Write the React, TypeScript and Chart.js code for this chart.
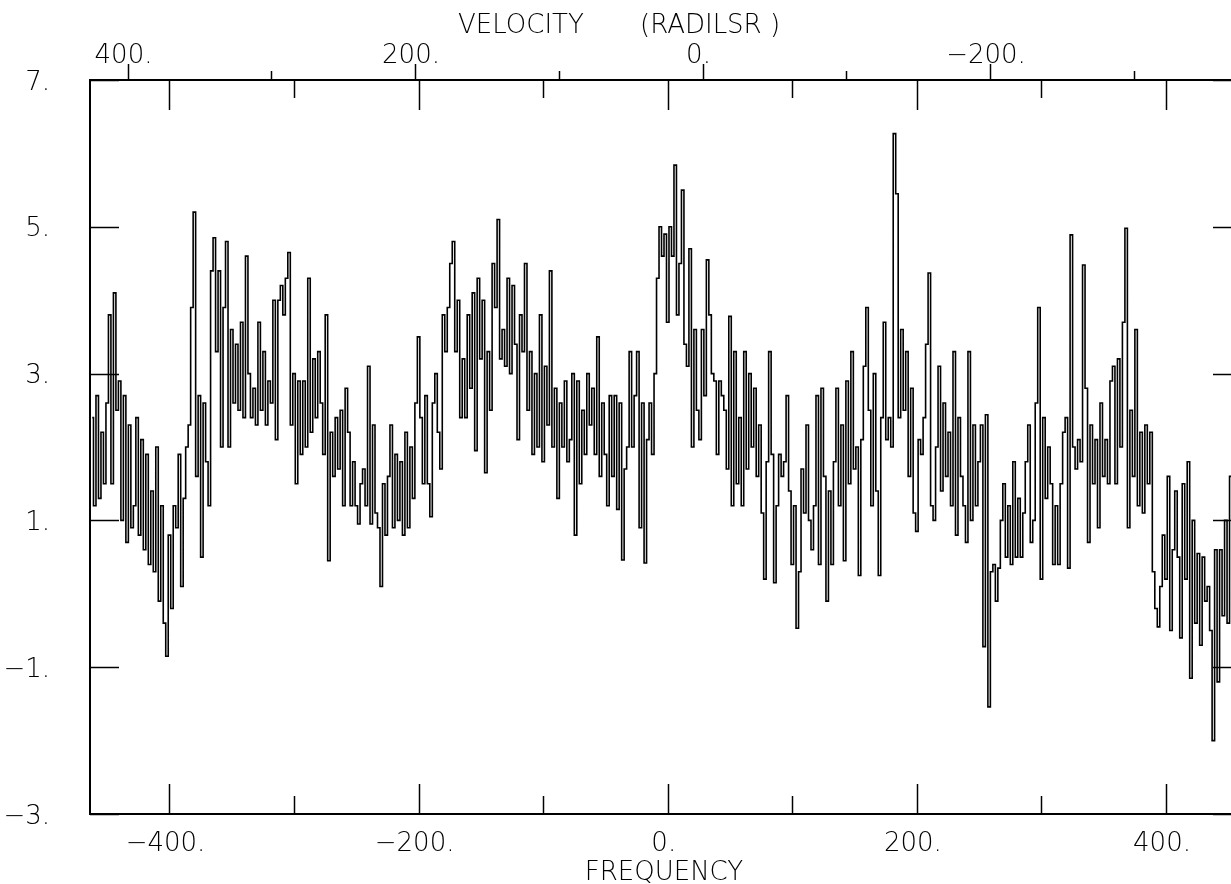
import { useEffect, useRef } from 'react';
import { Chart, registerables } from 'chart.js';

Chart.register(...registerables);

// ---- channel grid (frequency axis) ----
const FREQ_START = -462;
const FREQ_STEP = 2;

// ---- spectrum values, left to right ----
const spectrumA = [2.4, 1.2, 2.7, 1.3, 2.2, 1.5, 2.6, 3.8, 1.5, 4.1,
  2.5, 2.9, 1.0, 2.7, 0.7, 2.3, 0.9, 1.2, 2.4, 0.8,
  2.1, 0.6, 1.9, 0.4, 1.4, 0.3, 2.0, -0.1, 1.2, -0.4,
  -0.85, 0.8, -0.2, 1.2, 0.9, 1.9, 0.1, 1.3, 2.0, 2.3,
  3.9, 5.2, 1.6, 2.7, 0.5, 2.6, 1.8, 1.2, 4.4, 4.85,
  3.3, 4.4, 2.0, 3.9, 4.8, 2.0, 3.6, 2.6, 3.4];
const spectrumB = [2.5, 3.7, 2.4, 4.6, 3.0, 2.4, 2.8, 2.3, 3.7, 2.5,
  3.3, 2.3, 2.9, 2.6, 4.0, 2.1, 4.0, 4.2, 3.8, 4.3,
  4.65, 2.3, 3.0, 1.5, 2.9, 1.9, 2.9, 2.0, 4.3, 2.2,
  3.2, 2.4, 3.3, 2.6, 1.9, 3.8, 0.45, 2.2, 1.6, 2.4,
  1.7, 2.5, 1.2, 2.8, 2.2, 1.2, 1.8, 1.2, 0.95, 1.5,
  1.7, 1.2, 3.1, 0.95, 2.3, 1.1, 0.9];
const spectrumC = [0.1, 1.5, 0.8, 1.6, 2.3, 0.9, 1.9, 1.0, 1.8, 0.8,
  2.2, 0.9, 2.0, 1.3, 2.6, 3.5, 2.4, 1.5, 2.7, 1.5,
  1.05, 2.6, 3.0, 2.2, 1.7, 3.8, 3.3, 3.9, 4.5, 4.8,
  3.3, 4.0, 2.4, 3.2, 2.4, 3.8, 2.8, 4.1, 1.95, 4.3,
  3.2, 4.0, 1.65, 3.3, 2.5, 4.5, 3.9, 5.1, 3.2, 3.6,
  3.1, 4.3, 3.0, 4.2, 3.4, 2.1, 3.8, 3.3];
const spectrumD = [4.5, 2.5, 3.3, 1.9, 3.0, 2.0, 3.8, 1.8, 3.1, 2.3,
  4.4, 2.0, 2.8, 1.3, 2.6, 2.0, 2.9, 1.8, 2.1, 3.0,
  0.8, 2.9, 1.5, 2.5, 1.9, 3.0, 2.3, 2.8, 1.9, 3.5,
  1.6, 2.6, 1.9, 1.2, 2.7, 1.6, 2.7, 1.15, 2.6, 0.46,
  1.7, 2.0, 3.3, 2.0, 2.7, 3.3, 0.9, 2.6, 0.42, 2.1,
  2.6, 1.9, 3.0, 4.3, 5.0, 4.6];
const spectrumE = [4.9, 3.7, 5.0, 4.6, 5.84, 3.8, 4.5, 5.5, 3.4, 3.1,
  4.7, 2.0, 3.6, 2.5, 2.1, 3.6, 2.7, 4.55, 3.8, 3.0,
  2.9, 1.9, 2.9, 2.7, 2.5, 1.7, 3.78, 1.2, 3.3, 1.5,
  2.4, 1.2, 3.3, 1.7, 3.0, 2.0, 2.8, 1.6, 2.3, 1.1,
  0.2, 1.8, 3.3, 1.9, 0.15, 1.2, 1.9, 1.6, 1.8, 2.7,
  1.4, 0.4, 1.2, -0.47, 0.3, 1.7];
const spectrumF = [1.1, 2.3, 1.0, 0.6, 1.2, 2.7, 0.4, 2.8, 1.6, -0.1,
  1.4, 0.4, 1.8, 2.8, 1.2, 2.3, 0.45, 2.9, 1.5, 3.3,
  1.7, 2.0, 0.25, 2.1, 3.1, 3.9, 2.5, 1.2, 3.0, 1.4,
  0.25, 2.4, 3.7, 2.1, 2.4, 2.0, 6.27, 5.45, 2.4, 3.6,
  2.5, 3.3, 1.6, 2.8, 1.1, 0.85, 2.1, 1.9, 2.4, 3.4,
  4.37, 1.2, 1.0, 2.0, 3.1, 1.4, 2.6];
const spectrumG = [1.6, 2.2, 1.2, 3.3, 0.8, 2.4, 1.6, 1.2, 0.7, 3.3,
  1.0, 2.3, 1.2, 1.8, 2.3, -0.72, 2.44, -1.54, 0.3, 0.4,
  -0.1, 0.35, 1.0, 1.5, 0.5, 1.2, 0.4, 1.8, 0.5, 1.3,
  0.5, 1.1, 1.8, 2.3, 0.7, 1.0, 2.6, 3.9, 0.2, 2.4,
  1.3, 2.0, 1.5, 0.4, 1.2, 0.4, 1.5, 2.2, 2.4, 0.35,
  4.89, 2.0, 1.7, 2.1, 1.8, 4.48];
const spectrumH = [2.8, 0.7, 2.3, 1.5, 2.1, 0.9, 2.6, 1.6, 2.1, 1.5,
  2.9, 3.1, 1.5, 3.2, 2.0, 3.7, 4.98, 0.9, 2.5, 1.6,
  3.6, 1.2, 2.2, 1.1, 2.3, 1.5, 2.2, 0.3, -0.2, -0.45,
  0.1, 0.8, 0.2, 1.6, -0.5, 0.6, 1.4, 0.5, -0.6, 1.5,
  0.2, 1.8, -1.15, 1.0, -0.4, 0.55, -0.7, 0.5, -0.1, 0.1,
  -0.5, -2.0, 0.6, -1.2, 0.6, -0.3, 1.0, -0.4, 1.6, 0.5,
  1.2, 0.3, 1.0, 0.6];

const SPECTRUM = [
  ...spectrumA, ...spectrumB, ...spectrumC, ...spectrumD,
  ...spectrumE, ...spectrumF, ...spectrumG, ...spectrumH,
];

// ---- axes ----
const FREQ_MIN = -463.8;
const FREQ_MAX = 461.0;
const VEL_MIN = -375.3;
const VEL_MAX = 426.1;
const Y_MIN = -3;
const Y_MAX = 7;

const FREQ_TICKS = [-400, -300, -200, -100, 0, 100, 200, 300, 400];
const FREQ_LABELS = ['\u2212400.', '', '\u2212200.', '', '0.', '', '200.', '', '400.'];
const VEL_TICKS = [400, 300, 200, 100, 0, -100, -200, -300];
const VEL_LABELS = ['400.', '', '200.', '', '0.', '', '\u2212200.', ''];
const Y_TICKS = [7, 5, 3, 1, -1, -3];
const Y_LABELS = ['7.', '5.', '3.', '1.', '\u22121.', '\u22123.'];

const TITLE_TOP_A = 'VELOCITY';
const TITLE_TOP_B = '(RADILSR )';
const TITLE_BOTTOM = 'FREQUENCY';

const CANVAS_W = 1250;
const CANVAS_H = 884;
const FONT = '200 26px "DejaVu Sans", sans-serif';

const decorPlugin = {
  id: 'decor',
  afterDraw(chart: any) {
    const { ctx, chartArea: a, scales } = chart;
    const fx = scales.x;
    const vx = scales.v;
    const ys = scales.y;
    ctx.save();
    ctx.strokeStyle = '#000';
    ctx.fillStyle = '#000';

    const seg = (x1: number, y1: number, x2: number, y2: number) => {
      ctx.beginPath();
      ctx.moveTo(x1, y1);
      ctx.lineTo(x2, y2);
      ctx.stroke();
    };

    // frame
    ctx.lineWidth = 2;
    ctx.strokeRect(a.left, a.top, a.right - a.left, a.bottom - a.top);

    // inward frequency ticks (bottom and top)
    ctx.lineWidth = 1.5;
    FREQ_TICKS.forEach((f, i) => {
      const px = Math.round(fx.getPixelForValue(f)) + 0.5;
      const len = FREQ_LABELS[i] ? 30 : 18;
      seg(px, a.bottom, px, a.bottom - len);
      seg(px, a.top, px, a.top + len);
    });
    // outward velocity ticks (top)
    VEL_TICKS.forEach((v, i) => {
      const px = Math.round(vx.getPixelForValue(v)) + 0.5;
      const len = VEL_LABELS[i] ? 16 : 9;
      seg(px, a.top, px, a.top - len);
    });
    // inward y ticks (left and right)
    Y_TICKS.forEach((t) => {
      const py = Math.round(ys.getPixelForValue(t)) + 0.5;
      seg(a.left, py, a.left + 29, py);
      seg(a.right, py, a.right - 29, py);
    });

    // labels
    ctx.font = FONT;
    ctx.textBaseline = 'alphabetic';
    ctx.textAlign = 'center';
    FREQ_TICKS.forEach((f, i) => {
      if (!FREQ_LABELS[i]) return;
      ctx.fillText(FREQ_LABELS[i], fx.getPixelForValue(f) - 4, a.bottom + 37);
    });
    VEL_TICKS.forEach((v, i) => {
      if (!VEL_LABELS[i]) return;
      ctx.fillText(VEL_LABELS[i], vx.getPixelForValue(v) - 4, a.top - 17);
    });
    ctx.textAlign = 'right';
    Y_TICKS.forEach((t, i) => {
      ctx.fillText(Y_LABELS[i], a.left - 40, ys.getPixelForValue(t) + 9.5);
    });

    // titles
    ctx.textAlign = 'left';
    ctx.fillText(TITLE_TOP_A, 458, a.top - 47);
    ctx.fillText(TITLE_TOP_B, 640, a.top - 47);
    ctx.textAlign = 'center';
    ctx.fillText(TITLE_BOTTOM, 664, a.bottom + 66);
    ctx.restore();
  },
};

export default function App() {
  const ref = useRef<HTMLCanvasElement | null>(null);

  useEffect(() => {
    const canvas = ref.current;
    if (!canvas) return;
    const points = SPECTRUM.map((v, i) => ({ x: FREQ_START + i * FREQ_STEP, y: v }));
    const chart = new Chart(canvas, {
      type: 'line',
      data: {
        datasets: [
          {
            data: points,
            borderColor: '#000',
            borderWidth: 1.6,
            pointRadius: 0,
            stepped: 'middle',
            fill: false,
            xAxisID: 'x',
            yAxisID: 'y',
          },
        ],
      },
      options: {
        animation: false,
        responsive: false,
        devicePixelRatio: 1,
        layout: { padding: { left: 90, top: 80, right: CANVAS_W - 1242, bottom: CANVAS_H - 814 } },
        plugins: { legend: { display: false }, tooltip: { enabled: false }, title: { display: false } },
        scales: {
          x: { type: 'linear', position: 'bottom', min: FREQ_MIN, max: FREQ_MAX, display: false },
          v: { type: 'linear', position: 'top', axis: 'x', reverse: true, min: VEL_MIN, max: VEL_MAX, display: false },
          y: { type: 'linear', position: 'left', min: Y_MIN, max: Y_MAX, display: false },
        },
      } as any,
      plugins: [decorPlugin],
    });
    return () => chart.destroy();
  }, []);

  return (
    <div style={{ position: 'fixed', left: 0, top: 0, width: '100vw', height: '100vh', overflow: 'hidden', background: '#fff' }}>
      <canvas ref={ref} width={CANVAS_W} height={CANVAS_H} style={{ display: 'block', width: CANVAS_W, height: CANVAS_H }} />
    </div>
  );
}
